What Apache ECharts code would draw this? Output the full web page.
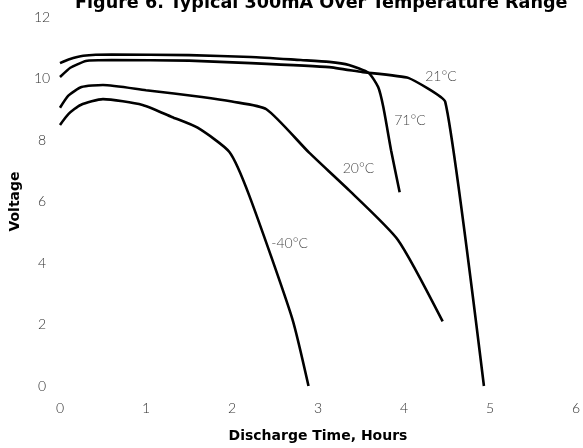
<!DOCTYPE html>
<html>
<head>
<meta charset="utf-8">
<script src="https://cdn.jsdelivr.net/npm/echarts@6/dist/echarts.min.js"></script>
<style>
  html, body { margin: 0; padding: 0; background: #fff; }
  #chart { width: 583px; height: 448px; }
</style>
</head>
<body>
<div id="chart"></div>
<script>
// discharge curves, hours vs volts
const hours71 = [0, 0.1, 0.27, 0.6, 1.5, 2.22, 2.8, 3.13, 3.36, 3.59, 3.7, 3.76, 3.85, 3.95]
const volts71 = [10.5, 10.62, 10.74, 10.78, 10.76, 10.7, 10.6, 10.54, 10.44, 10.18, 9.72, 9.07, 7.67, 6.3]

const hours21 = [0, 0.12, 0.3, 0.6, 1.5, 2.22, 3.13, 3.51, 4.05, 4.48, 4.93]
const volts21 = [10.05, 10.35, 10.57, 10.6, 10.58, 10.5, 10.37, 10.21, 10.02, 9.24, 0]

const hours20 = [0, 0.1, 0.25, 0.5, 1.0, 1.65, 2.0, 2.4, 2.9, 3.36, 3.93, 4.45]
const volts20 = [9.05, 9.45, 9.72, 9.79, 9.62, 9.4, 9.25, 9.0, 7.58, 6.37, 4.75, 2.1]

const hoursM40 = [0, 0.1, 0.24, 0.5, 0.96, 1.3, 1.6, 1.97, 2.2, 2.7, 2.89]
const voltsM40 = [8.49, 8.85, 9.14, 9.33, 9.14, 8.75, 8.4, 7.61, 6.2, 2.2, 0]

// curve labels
const labelTexts = ['21°C', '71°C', '20°C', '-40°C']
const labelHours = [4.43, 4.07, 3.47, 2.67]
const labelVolts = [10.05, 8.65, 7.06, 4.65]

const xTicks = [0, 1, 2, 3, 4, 5, 6]
const yTicks = [0, 2, 4, 6, 8, 10, 12]

const pairs = (xs, ys) => xs.map((x, i) => [x, ys[i]])

const chart = echarts.init(document.getElementById('chart'))

const tickFont = { color: '#333', fontSize: 14, fontFamily: 'Lato', fontWeight: 300 }
const nameFont = { color: '#000', fontSize: 14, fontFamily: 'DejaVu Sans', fontWeight: 'bold' }

const curve = (name, xs, ys, smooth) => ({
  name,
  type: 'line',
  data: pairs(xs, ys),
  showSymbol: false,
  smooth: smooth,
  lineStyle: { color: '#000', width: 2.6 },
  silent: true
})

chart.setOption({
  animation: false,
  title: {
    text: 'Figure 6. Typical 300mA Over Temperature Range',
    left: 70,
    top: -11,
    textStyle: { color: '#000', fontSize: 17.6, fontFamily: 'DejaVu Sans', fontWeight: 'bold' }
  },
  grid: { left: 56, right: 2, top: 17, bottom: 62 },
  xAxis: {
    type: 'value',
    min: 0, max: 6, interval: 1,
    name: 'Discharge Time, Hours',
    nameLocation: 'middle',
    nameGap: 43,
    nameTextStyle: nameFont,
    axisLine: { show: false },
    axisTick: { show: false },
    splitLine: { show: false },
    axisLabel: Object.assign({ margin: 15, formatter: v => xTicks.includes(v) ? String(v) : '' }, tickFont)
  },
  yAxis: {
    type: 'value',
    min: 0, max: 12, interval: 2,
    name: 'Voltage',
    nameLocation: 'middle',
    nameGap: 38,
    nameTextStyle: nameFont,
    axisLine: { show: false },
    axisTick: { show: false },
    splitLine: { show: false },
    axisLabel: Object.assign({ margin: 18, align: 'center', formatter: v => yTicks.includes(v) ? String(v) : '' }, tickFont)
  },
  series: [
    curve('71°C', hours71, volts71, 0.2),
    curve('21°C', hours21, volts21, 0.12),
    curve('20°C', hours20, volts20, 0.2),
    curve('-40°C', hoursM40, voltsM40, 0.2),
    {
      type: 'scatter',
      symbolSize: 0,
      silent: true,
      data: labelTexts.map((t, i) => ({ name: t, value: [labelHours[i], labelVolts[i]] })),
      label: {
        show: true,
        position: 'inside',
        formatter: p => p.name,
        color: '#111',
        fontSize: 14,
        fontFamily: 'Lato',
        fontWeight: 300
      }
    }
  ]
})
</script>
</body>
</html>
